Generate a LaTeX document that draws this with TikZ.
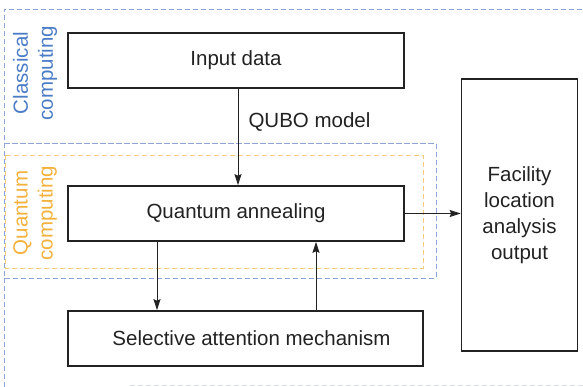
\documentclass[tikz,border=0pt]{standalone}
\usepackage{fontspec}
\setmainfont{Liberation Sans}
\usetikzlibrary{arrows.meta}
\definecolor{cblue}{HTML}{4A7CC7}
\definecolor{lblue}{HTML}{8DA4D8}
\definecolor{corange}{HTML}{F4B13C}
\definecolor{lorange}{HTML}{F5CA7C}
\definecolor{ink}{HTML}{222222}
\begin{document}
\begin{tikzpicture}[x=1pt,y=-1pt,
  every node/.style={font=\fontsize{20.5}{24}\selectfont, text=ink},
  block/.style={draw=ink, line width=1.7pt, minimum width=#1, minimum height=55pt, inner sep=0pt},
  bdash/.style={draw=lblue, line width=0.9pt, dash pattern=on 5pt off 3pt},
  odash/.style={draw=lorange, line width=0.9pt, dash pattern=on 5pt off 3pt},
  arr/.style={draw=ink, line width=0.9pt, -{Stealth[length=11pt,width=7pt,inset=1.5pt]}}]
\useasboundingbox (0,0) rectangle (583,387);
% region outlines
\draw[bdash] (590,9) -- (4,9) -- (4,143) -- (436,143);
\draw[bdash] (4,143) rectangle (436,278);
\draw[bdash] (4,278) -- (4,387);
\draw[bdash, draw opacity=0.35] (130,385) -- (590,385);
\draw[odash] (5,155) rectangle (423,268);
% region labels
\node[rotate=90, text=cblue, align=center, font=\fontsize{20.5}{25}\selectfont] (lclass) at (35,73) {Classical\\computing};
\node[rotate=90, text=corange, align=center, font=\fontsize{20.5}{25}\selectfont] (lquant) at (35,213) {Quantum\\computing};
% blocks
\node[block=336pt] (input) at (236,60.5) {Input data};
\node[block=336pt] (qa) at (236,213.5) {Quantum annealing};
\node[block=355pt] (sel) at (245.5,338.5) {\hspace{12pt}Selective attention mechanism};
\node[draw=ink, line width=1.7pt, minimum width=116pt, minimum height=272pt, inner sep=0pt, align=center, font=\fontsize{20.5}{26}\selectfont] (fac) at (519.5,215) {Facility\\location\\analysis\\output};
% connectors
\draw[arr] ([xshift=2pt]input.south) -- ([xshift=2pt]qa.north);
\node[anchor=west] (qubo) at (245,122) {QUBO model};
\draw[arr] (qa.south -| 157,0) -- (sel.north -| 157,0);
\draw[arr] (sel.north -| 316,0) -- (qa.south -| 316,0);
\draw[arr] (qa.east) -- (qa.east -| fac.west);
\end{tikzpicture}
\end{document}
